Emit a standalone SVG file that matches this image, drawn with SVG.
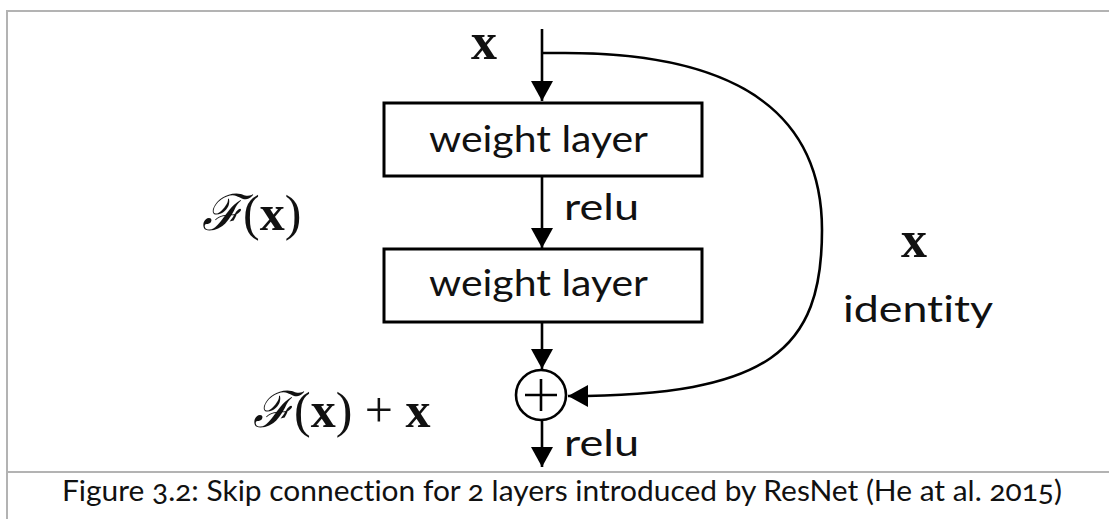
<svg xmlns="http://www.w3.org/2000/svg" width="1109" height="519" viewBox="0 0 1109 519">
<style>
.frame{stroke:#b3b3b3;stroke-width:2;fill:none}
.box{fill:#fff;stroke:#000;stroke-width:3}
.lbl{font-family:Lato,"Open Sans","Liberation Sans",sans-serif;font-size:36px;fill:#111;font-variant-ligatures:none}
.math{font-family:"Liberation Serif","DejaVu Serif",serif;fill:#111}
.conn{stroke:#000;stroke-width:2.6;fill:none}
.cap{font-family:Lato,"Noto Sans",sans-serif;font-size:28px;fill:#111;font-variant-numeric:oldstyle-nums;font-variant-ligatures:none}
</style>
<defs>
<marker id="ah" markerWidth="22" markerHeight="22" viewBox="0 0 22 22" refX="20" refY="11" orient="auto" markerUnits="userSpaceOnUse">
<path d="M0,0 L20,11 L0,22 Z" fill="#000"/>
</marker>
</defs>
<rect width="1109" height="519" fill="#fff"/>
<g id="frame">
<path class="frame" d="M7,519 V11 H1109"/>
<path class="frame" d="M7,472 H1109"/>
</g>
<g id="connectors">
<path class="conn" d="M542,29 V101" marker-end="url(#ah)"/>
<path class="conn" d="M542,176 V248" marker-end="url(#ah)"/>
<path class="conn" d="M542,322 V369" marker-end="url(#ah)"/>
<path class="conn" d="M542,421 V467" marker-end="url(#ah)"/>
<path class="conn" stroke-width="2.2" d="M542,53 H565 C700,53 822,90 822,230 C822,350 770,396 568,396" marker-end="url(#ah)"/>
</g>
<g id="input-x"><text class="math" x="484" y="59" font-size="52" font-weight="bold" text-anchor="middle">x</text></g>
<g id="weight1">
<rect class="box" x="384" y="103" width="318" height="73"/>
<text class="lbl" x="429" y="152" textLength="219" lengthAdjust="spacingAndGlyphs">weight layer</text>
</g>
<g id="relu1"><text class="lbl" x="564" y="220" textLength="75" lengthAdjust="spacingAndGlyphs">relu</text></g>
<g id="weight2">
<rect class="box" x="384" y="249" width="318" height="73"/>
<text class="lbl" x="429" y="296" textLength="219" lengthAdjust="spacingAndGlyphs">weight layer</text>
</g>
<g id="add">
<circle cx="541" cy="395" r="25" fill="#fff" stroke="#000" stroke-width="2.6"/>
<path d="M541,379 V411 M525,395 H557" stroke="#000" stroke-width="2.6"/>
</g>
<g id="relu2"><text class="lbl" x="564" y="456" textLength="75" lengthAdjust="spacingAndGlyphs">relu</text></g>
<g id="label-fx"><text class="math" x="202" y="230" font-size="50"><tspan font-style="italic" font-family="DejaVu Serif">ℱ</tspan><tspan>(</tspan><tspan font-weight="bold">x</tspan><tspan>)</tspan></text></g>
<g id="label-fxx"><text class="math" x="253" y="427" font-size="50"><tspan font-style="italic" font-family="DejaVu Serif">ℱ</tspan><tspan>(</tspan><tspan font-weight="bold">x</tspan><tspan>) + </tspan><tspan font-weight="bold">x</tspan></text></g>
<g id="label-x-right"><text class="math" x="914" y="257" font-size="52" font-weight="bold" text-anchor="middle">x</text></g>
<g id="label-identity"><text class="lbl" x="843" y="322" textLength="150" lengthAdjust="spacingAndGlyphs">identity</text></g>
<g id="caption"><text class="cap" x="62" y="501" textLength="1000" lengthAdjust="spacingAndGlyphs">Figure 3.2: Skip connection for 2 layers introduced by ResNet (He at al. 2015)</text></g>
</svg>
